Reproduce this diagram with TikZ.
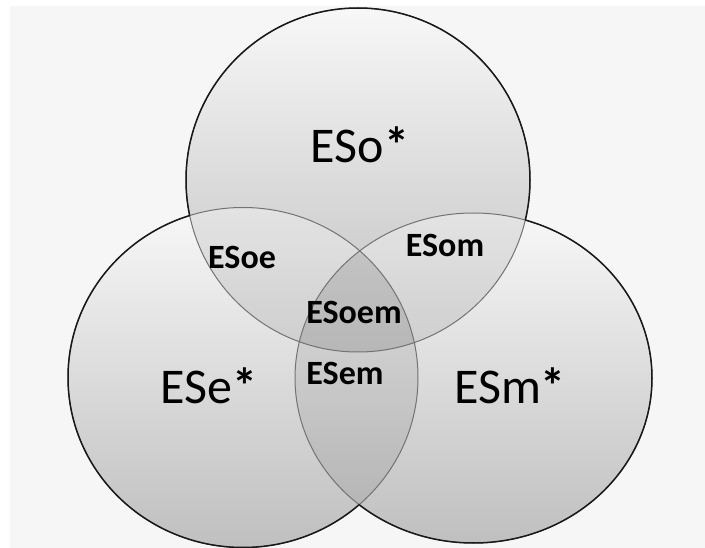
\documentclass[tikz,border=0pt]{standalone}
\usepackage{fontspec}
\setmainfont{Carlito}
\begin{document}
\begin{tikzpicture}[x=1pt,y=-1pt,
  vshade/.style={top color=black!3, bottom color=black!25},
  vdark/.style={fill=black, fill opacity=0.08},
  vlight/.style={fill=white, fill opacity=0.12},
  innerline/.style={draw=black!55, line width=1pt},
  outerline/.style={draw=black!90, line width=1.5pt},
  biglabel/.style={inner sep=0pt, font=\fontsize{50}{50}\selectfont, text=black},
  smalllabel/.style={inner sep=0pt, font=\bfseries\fontsize{34}{34}\selectfont, text=black}]
\useasboundingbox (0,0) rectangle (705,548);
\fill[white] (0,0) rectangle (705,548);
\fill[black!3.5] (10,6) rectangle (705,548);
% circle paths
\def\topC{(358,180) ellipse [x radius=172, y radius=172]}
\def\leftC{(243,377.5) ellipse [x radius=175, y radius=170]}
\def\rightC{(473.5,378) ellipse [x radius=178.5, y radius=165]}
% fills
\shade[vshade] \topC;
\shade[vshade] \leftC;
\shade[vshade] \rightC;
% overlap darkening
\begin{scope}\clip \topC; \fill[vdark] \leftC; \end{scope}
\begin{scope}\clip \topC; \fill[vdark] \rightC; \end{scope}
\begin{scope}\clip \leftC; \fill[vdark] \rightC; \end{scope}
% soften triple overlap
\begin{scope}\clip \topC; \clip \leftC; \fill[vlight] \rightC; \end{scope}
% inner outlines
\draw[innerline] \topC;
\draw[innerline] \leftC;
\draw[innerline] \rightC;
% outer outlines
\begin{scope}[even odd rule]
  \clip (-10,-10) rectangle (715,558) \leftC;
  \clip (-10,-10) rectangle (715,558) \rightC;
  \draw[outerline] \topC;
\end{scope}
\begin{scope}[even odd rule]
  \clip (-10,-10) rectangle (715,558) \topC;
  \clip (-10,-10) rectangle (715,558) \rightC;
  \draw[outerline] \leftC;
\end{scope}
\begin{scope}[even odd rule]
  \clip (-10,-10) rectangle (715,558) \topC;
  \clip (-10,-10) rectangle (715,558) \leftC;
  \draw[outerline] \rightC;
\end{scope}
% labels
\node[biglabel] (eso) at (360,145) {ESo\textbf{*}};
\node[biglabel] (ese) at (209,386) {ESe\textbf{*}};
\node[biglabel] (esm) at (510,386) {ESm\textbf{*}};
\node[smalllabel] (esoe) at (242,257) {ESoe};
\node[smalllabel] (esom) at (445,245) {ESom};
\node[smalllabel] (esoem) at (354,312) {ESoem};
\node[smalllabel] (esem) at (345,373) {ESem};
\end{tikzpicture}
\end{document}
